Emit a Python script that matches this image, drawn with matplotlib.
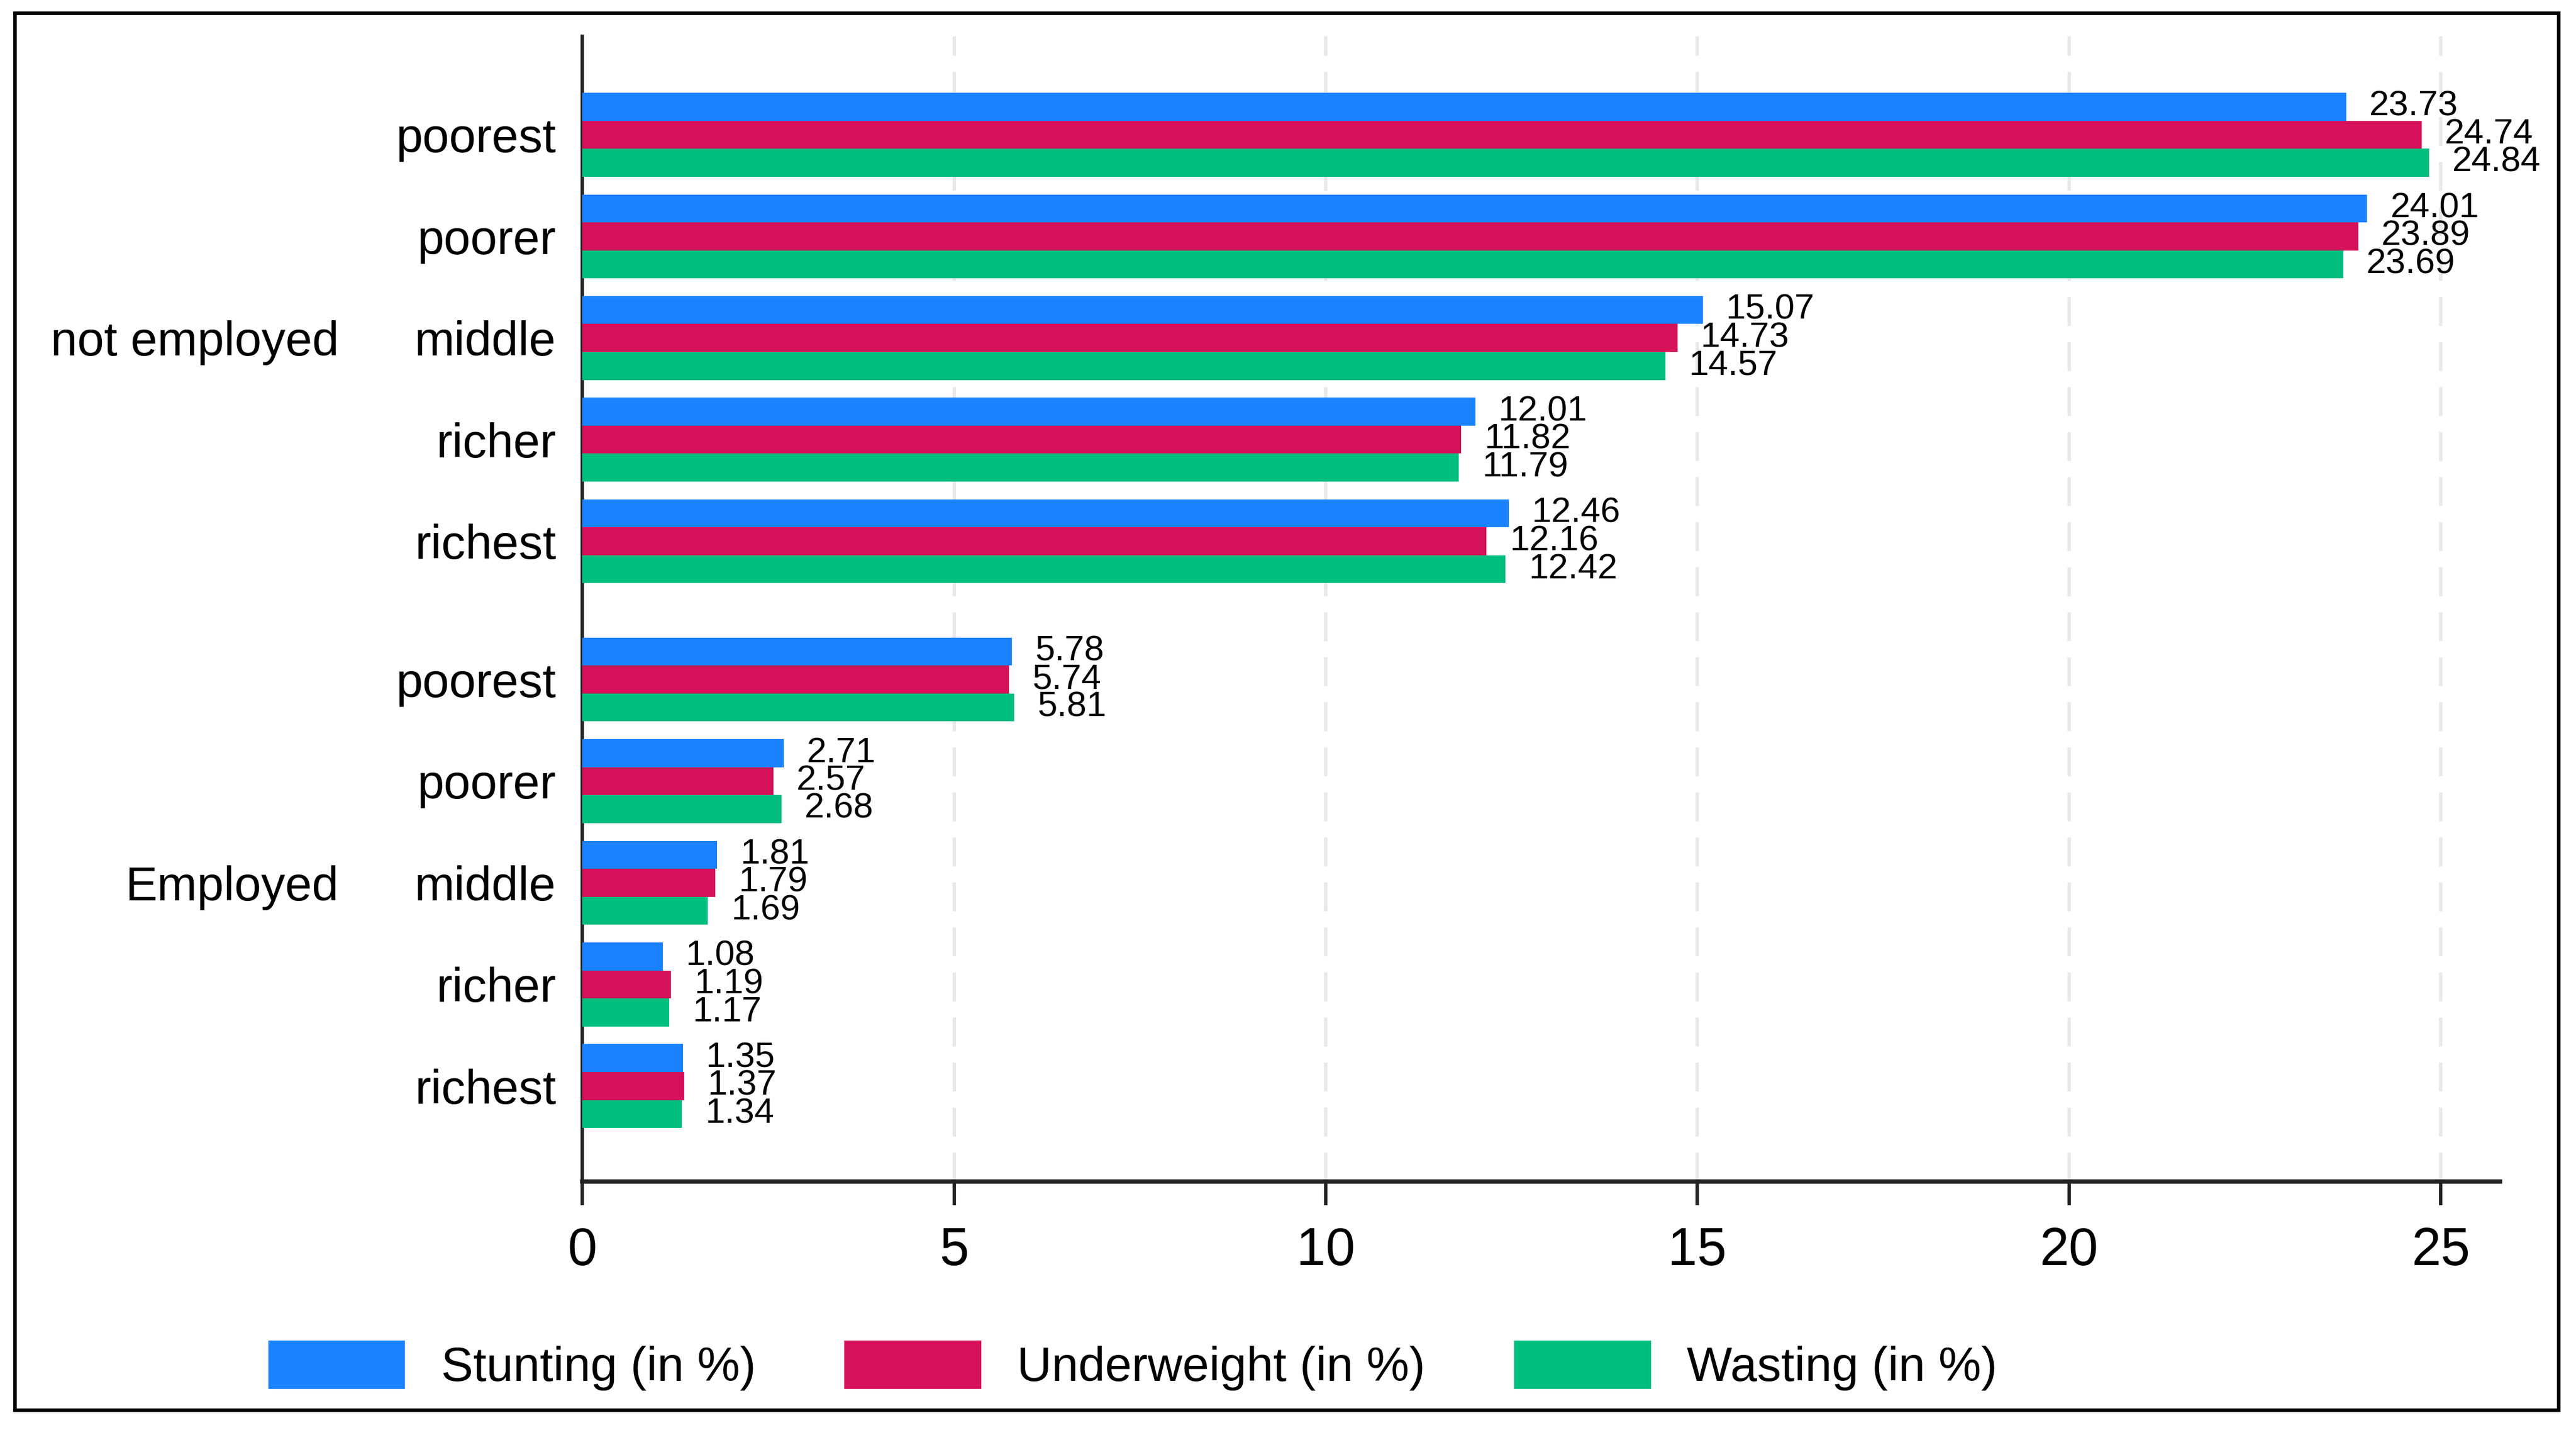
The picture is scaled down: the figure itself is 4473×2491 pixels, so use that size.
import matplotlib
matplotlib.use("Agg")
import matplotlib.pyplot as plt
from matplotlib.patches import Rectangle, Patch
from matplotlib.transforms import blended_transform_factory
import numpy as np

plt.rcParams['font.family'] = ['Liberation Sans', 'DejaVu Sans']

# ---- data ----
groups = ["not employed", "Employed"]
quintiles = ["poorest", "poorer", "middle", "richer", "richest"]
series_names = ["Stunting (in %)", "Underweight (in %)", "Wasting (in %)"]
stunting_not = [23.73, 24.01, 15.07, 12.01, 12.46]
underweight_not = [24.74, 23.89, 14.73, 11.82, 12.16]
wasting_not = [24.84, 23.69, 14.57, 11.79, 12.42]
stunting_emp = [5.78, 2.71, 1.81, 1.08, 1.35]
underweight_emp = [5.74, 2.57, 1.79, 1.19, 1.37]
wasting_emp = [5.81, 2.68, 1.69, 1.17, 1.34]
xticks = [0, 5, 10, 15, 20, 25]

colors = ["#1A82FF", "#D41159", "#00BE7D"]

series = [stunting_not + stunting_emp,
          underweight_not + underweight_emp,
          wasting_not + wasting_emp]

# ---- layout ----
W, H = 4473, 2491
fig = plt.figure(figsize=(W / 300, H / 300), dpi=300)
ax = fig.add_axes([0.2261, 0.1766, 0.7445, 0.7982])

n = len(quintiles)
gap = 0.36
centers = np.array([i for i in range(n)] + [n + gap + i for i in range(n)], dtype=float)
bh = 0.275
offsets = [-bh, 0.0, bh]

for k, vals in enumerate(series):
    ypos = centers + offsets[k]
    ax.barh(ypos, vals, height=bh, color=colors[k], zorder=3, linewidth=0)
    for y, v in zip(ypos, vals):
        ax.annotate(f"{v:.2f}", xy=(v, y), xytext=(9.6, 0), textcoords="offset points",
                    ha="left", va="center", fontsize=14.8, color="black", zorder=4)

ax.set_xlim(0, 25.8)
ax.set_ylim(centers[-1] + 0.94, -0.97)

ax.set_yticks(centers)
ax.set_yticklabels(quintiles * 2, fontsize=20)
ax.tick_params(axis="y", length=0, pad=11)

ax.set_xticks(xticks)
ax.set_xticklabels([str(t) for t in xticks], fontsize=22)
ax.tick_params(axis="x", length=9.8, width=1.4, color="#222222", pad=9, direction="out")

for x in xticks[1:]:
    ax.axvline(x, color="#e9e9e9", lw=1.4, linestyle=(0, (8.6, 4.8)), zorder=1)

for s in ["top", "right"]:
    ax.spines[s].set_visible(False)
ax.spines["left"].set_color("#222222")
ax.spines["left"].set_linewidth(1.4)
ax.spines["bottom"].set_color("#222222")
ax.spines["bottom"].set_linewidth(1.8)

# group labels
tr = blended_transform_factory(fig.transFigure, ax.transData)
for gi, g in enumerate(groups):
    yc = centers[gi * n + 2]
    ax.text(0.1315, yc, g, transform=tr, ha="right", va="center_baseline",
            fontsize=20, color="black")

# legend
handles = [Patch(facecolor=c, edgecolor="none") for c in colors]
fig.legend(handles, series_names, ncol=3, loc="center left",
           bbox_to_anchor=(0.1041, 0.0482), frameon=False, fontsize=20,
           handlelength=2.85, handleheight=1.17, handletextpad=0.75,
           columnspacing=1.85, borderpad=0, borderaxespad=0)

# outer frame
fig.patches.append(Rectangle((0.0058, 0.0172), 0.9875, 0.9736, transform=fig.transFigure,
                             fill=False, edgecolor="black", linewidth=1.5, zorder=10))

fig.savefig("out.png", dpi=300)
